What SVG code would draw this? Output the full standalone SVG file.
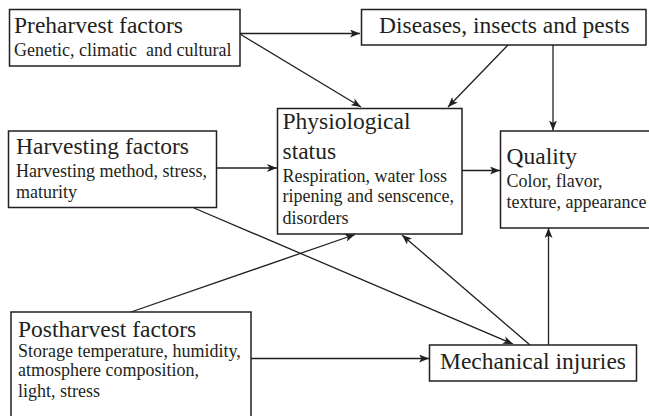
<svg xmlns="http://www.w3.org/2000/svg" width="649" height="416" viewBox="0 0 649 416">
  <defs>
    <marker id="arrow" viewBox="0 0 10 8" refX="10" refY="4" markerWidth="10" markerHeight="8" markerUnits="userSpaceOnUse" orient="auto">
      <path d="M0,0 L10,4 L0,8 L2.5,4 z" fill="#231f20"/>
    </marker>
  </defs>
  <style>
    .box { fill: #ffffff; stroke: #231f20; stroke-width: 1.5; }
    .link { fill: none; stroke: #231f20; stroke-width: 1.3; marker-end: url(#arrow); }
    text { font-family: "Liberation Serif", "Times New Roman", serif; fill: #231f20; white-space: pre; }
    .title { font-size: 23.5px; }
    .sub { font-size: 18px; }
  </style>
  <rect width="649" height="416" fill="#ffffff"/>

  <g id="connectors">
    <line class="link" x1="240" y1="33.5" x2="360" y2="33.5"/>
    <line class="link" x1="240" y1="34" x2="361" y2="107"/>
    <line class="link" x1="508" y1="45" x2="448" y2="107"/>
    <line class="link" x1="553" y1="45" x2="553" y2="130.5"/>
    <line class="link" x1="217" y1="168" x2="277" y2="168"/>
    <line class="link" x1="462" y1="170.5" x2="500" y2="170.5"/>
    <line class="link" x1="194" y1="208" x2="513" y2="344"/>
    <line class="link" x1="131" y1="312" x2="355" y2="234.5"/>
    <line class="link" x1="530" y1="345" x2="402" y2="235"/>
    <line class="link" x1="251" y1="358.5" x2="429" y2="358.5"/>
    <line class="link" x1="548.5" y1="345" x2="548.5" y2="228"/>
  </g>

  <g id="preharvest">
    <rect class="box" x="9.5" y="9.5" width="230.5" height="56.5"/>
    <text class="title" x="14" y="33">Preharvest factors</text>
    <text class="sub" x="14" y="56">Genetic, climatic  and cultural</text>
  </g>

  <g id="diseases">
    <rect class="box" x="361.5" y="9.5" width="284.5" height="35.5"/>
    <text class="title" x="379" y="33">Diseases, insects and pests</text>
  </g>

  <g id="harvesting">
    <rect class="box" x="8.5" y="131" width="208" height="76.5"/>
    <text class="title" x="16" y="154">Harvesting factors</text>
    <text class="sub" x="16" y="177">Harvesting method, stress,</text>
    <text class="sub" x="16" y="198">maturity</text>
  </g>

  <g id="physiological">
    <rect class="box" x="277.5" y="108.5" width="184.5" height="125.5"/>
    <text class="title" x="282.5" y="128.5">Physiological</text>
    <text class="title" x="282.5" y="159">status</text>
    <text class="sub" x="282.5" y="181.5">Respiration, water loss</text>
    <text class="sub" x="282.5" y="201.5">ripening and senscence,</text>
    <text class="sub" x="282.5" y="223.5">disorders</text>
  </g>

  <g id="quality">
    <rect class="box" x="500.5" y="131" width="160" height="97"/>
    <text class="title" x="506.5" y="164">Quality</text>
    <text class="sub" x="506.5" y="186.5">Color, flavor,</text>
    <text class="sub" x="506.5" y="207.5">texture, appearance</text>
  </g>

  <g id="postharvest">
    <rect class="box" x="11" y="312" width="240" height="120"/>
    <text class="title" x="18" y="336.5">Postharvest factors</text>
    <text class="sub" x="18" y="357">Storage temperature, humidity,</text>
    <text class="sub" x="18" y="376">atmosphere composition,</text>
    <text class="sub" x="18" y="396.5">light, stress</text>
  </g>

  <g id="mechanical">
    <rect class="box" x="429.5" y="345" width="207" height="36"/>
    <text class="title" x="440" y="369">Mechanical injuries</text>
  </g>
</svg>
